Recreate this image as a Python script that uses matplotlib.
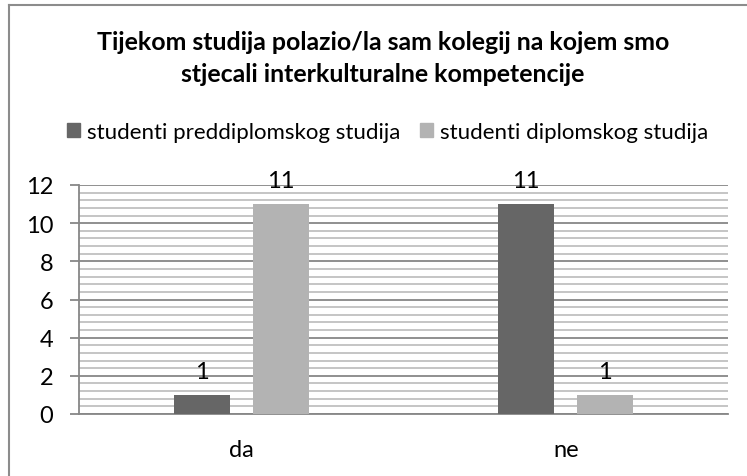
import numpy as np
import matplotlib
matplotlib.use('Agg')
import matplotlib.pyplot as plt
from matplotlib.ticker import MultipleLocator
from matplotlib.lines import Line2D

categories = ['da', 'ne']
series_names = ['studenti preddiplomskog studija', 'studenti diplomskog studija']
preddiplomski = [1, 11]
diplomski = [11, 1]
title = 'Tijekom studija polazio/la sam kolegij na kojem smo\nstjecali interkulturalne kompetencije'

plt.rcParams['font.family'] = ['Lato', 'DejaVu Sans']

fig = plt.figure(figsize=(7.47, 4.77), dpi=100)
ax = fig.add_axes([79/747, 1-415/477, (728-79)/747, (415-186)/477])

x = np.arange(len(categories))
w = 0.173
off = 0.1217
b1 = ax.bar(x - off, preddiplomski, w, color='#666666', zorder=3, label=series_names[0])
b2 = ax.bar(x + off, diplomski, w, color='#b3b3b3', zorder=3, label=series_names[1])

for bars in (b1, b2):
    for r in bars:
        ax.annotate(str(int(r.get_height())), (r.get_x() + r.get_width()/2, r.get_height()),
                    xytext=(0, 12.5), textcoords='offset points', ha='center', va='baseline',
                    fontsize=17, color='black')

ax.set_xlim(-0.5, 1.5)
ax.set_ylim(0, 12)
ax.yaxis.set_major_locator(MultipleLocator(2))
ax.yaxis.set_minor_locator(MultipleLocator(0.4))
ax.grid(axis='y', which='major', color='#878787', linewidth=1.3, zorder=0)
ax.grid(axis='y', which='minor', color='#c0c0c0', linewidth=1.3, zorder=0)
ax.set_axisbelow(True)

ax.set_xticks(x)
ax.set_xticklabels(categories, fontsize=17)
ax.tick_params(axis='x', length=0, pad=18)
ax.tick_params(axis='y', which='major', length=6.5, width=1.3, color='#878787', labelsize=17, pad=12)
ax.tick_params(axis='y', which='minor', length=0)

for s in ['top', 'right']:
    ax.spines[s].set_visible(False)
for s in ['left', 'bottom']:
    ax.spines[s].set_color('#878787')
    ax.spines[s].set_linewidth(1.3)

fig.text(383/747, 1-58.5/477, title, ha='center', va='center', fontsize=17.9,
         fontweight='bold', linespacing=1.45)

handles = [plt.Rectangle((0, 0), 1, 1, color='#666666'),
           plt.Rectangle((0, 0), 1, 1, color='#b3b3b3')]
fig.legend(handles, series_names, loc='center', bbox_to_anchor=(387.5/747, 1-133/477),
           ncol=2, frameon=False, fontsize=16, handlelength=0.6, handleheight=0.6,
           handletextpad=0.3, columnspacing=0.9, borderpad=0)

# outer chart border (left and top visible)
fig.add_artist(Line2D([9/747, 9/747], [0, 1-5.5/477], transform=fig.transFigure,
                      color='#8c8c8c', linewidth=1.5))
fig.add_artist(Line2D([9/747, 1], [1-5.5/477, 1-5.5/477], transform=fig.transFigure,
                      color='#8c8c8c', linewidth=1.5))

fig.savefig('out.png', dpi=100)
